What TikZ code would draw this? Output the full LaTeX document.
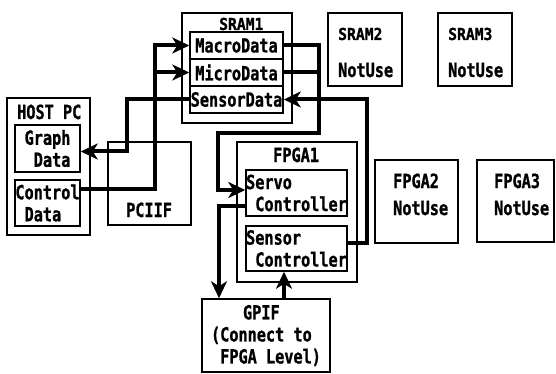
\documentclass[tikz,border=0pt]{standalone}
\usepackage{fontspec}
\usetikzlibrary{arrows.meta}
\newfontfamily\jfont[FakeStretch=0.78,FakeBold=1]{DejaVu Sans Mono}
\newfontfamily\sfontx[FakeStretch=0.89,FakeBold=1]{DejaVu Sans Mono}
\begin{document}
\begin{tikzpicture}[x=1pt,y=-1pt,
  box/.style={draw, line width=1.5pt, inner sep=0pt, align=left,
    font=\jfont\bfseries\fontsize{19.5}{22}\selectfont},
  lbl/.style={inner sep=0pt, font=\jfont\bfseries\fontsize{19.5}{22}\selectfont},
  slbl/.style={inner sep=0pt, font=\sfontx\bfseries\fontsize{16.5}{20}\selectfont},
  thickline/.style={line width=4pt, line join=miter},
  conn/.style={thickline, -{Stealth[length=17pt,width=16pt,inset=5pt]}}
]
\useasboundingbox (0,0) rectangle (556,374);
% HOST PC
\node[box, minimum width=83pt, minimum height=137pt] (host) at (48.5,166.5) {};
\node[lbl, anchor=base west] (hostl) at (17,119) {HOST PC};
\node[box, minimum width=65pt, minimum height=47pt] (graph) at (47.5,148.5) {Graph\\\ Data};
\node[box, minimum width=65pt, minimum height=46pt] (ctrl) at (47.5,203) {Control\\\ Data};
% PCIIF
\node[box, minimum width=83pt, minimum height=83pt] (pci) at (149.5,183.5) {};
\node[lbl, anchor=base west] (pcil) at (126,217) {PCIIF};
% SRAM1
\node[box, minimum width=110pt, minimum height=110pt] (sram1) at (237,68) {};
\node[slbl, anchor=base west] (sram1l) at (219,30) {SRAM1};
\node[box, minimum width=93pt, minimum height=27pt] (macro) at (236.5,45.5) {MacroData};
\node[box, minimum width=93pt, minimum height=27pt] (micro) at (236.5,72.5) {MicroData};
\node[box, minimum width=93pt, minimum height=27pt] (sdata) at (236.5,99.5) {SensorData};
% SRAM2, SRAM3
\node[box, minimum width=74pt, minimum height=73pt] (sram2) at (365,49.5) {};
\node[slbl, anchor=base west] (sram2l) at (338,40) {SRAM2};
\node[lbl, anchor=base west] (sram2n) at (338,77) {NotUse};
\node[box, minimum width=74pt, minimum height=73pt] (sram3) at (475,49.5) {};
\node[slbl, anchor=base west] (sram3l) at (448,40) {SRAM3};
\node[lbl, anchor=base west] (sram3n) at (448,77) {NotUse};
% FPGA1
\node[box, minimum width=120pt, minimum height=140pt] (fpga1) at (297,212) {};
\node[lbl, anchor=base west] (fpga1l) at (273,162) {FPGA1};
\node[box, minimum width=101pt, minimum height=46pt] (servo) at (296.5,193) {Servo\\\ Controller};
\node[box, minimum width=101pt, minimum height=45pt] (senctl) at (296.5,248.5) {Sensor\\\ Controller};
% FPGA2, FPGA3
\node[box, minimum width=83pt, minimum height=83pt] (fpga2) at (416.5,201.5) {};
\node[lbl, anchor=base west] (fpga2l) at (393,188) {FPGA2};
\node[lbl, anchor=base west] (fpga2n) at (393,215) {NotUse};
\node[box, minimum width=77pt, minimum height=82pt] (fpga3) at (515.5,201) {};
\node[lbl, anchor=base west] (fpga3l) at (494,188) {FPGA3};
\node[lbl, anchor=base west] (fpga3n) at (494,215) {NotUse};
% GPIF
\node[box, minimum width=128pt, minimum height=73pt] (gpif) at (266,335.5)
  {\hspace*{32pt}GPIF\\(Connect to\\\ FPGA Level)};
% connectors
\coordinate (cx) at (155,0);
\draw[conn] ([yshift=14pt]ctrl.east) -| (cx |- macro.west) -- (macro.west);
\draw[conn] (cx |- micro.west) -- (micro.west);
\coordinate (gx) at (127,0);
\coordinate (gin) at ([yshift=-3pt]graph.east);
\draw[conn] (sdata.west) -| (gx |- gin) -- (gin);
\coordinate (r1) at (319,133);
\coordinate (l1) at (218,133);
\draw[conn] (macro.east) -| (r1) -- (l1) |- ([yshift=3pt]servo.west);
\draw[thickline] (micro.east) -- (micro.east -| r1);
\draw[conn] ([yshift=5.5pt]senctl.east) -- ++(19,0) |- (sdata.east);
\coordinate (sv) at ([yshift=-13pt]servo.west);
\coordinate (gd) at (219,0);
\draw[conn] (sv) -| (gd |- gpif.north);
\coordinate (gu) at ([xshift=18pt]gpif.north);
\draw[conn] (gu) -- (gu |- senctl.south);
\end{tikzpicture}
\end{document}
